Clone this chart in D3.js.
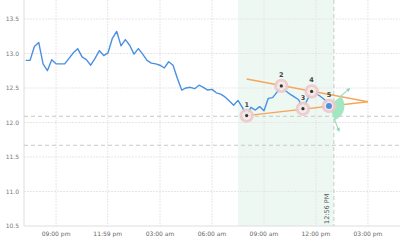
<!DOCTYPE html>
<html>
<head>
<meta charset="utf-8">
<script src="https://cdn.jsdelivr.net/npm/d3@7"></script>
<style>
  body { margin: 0; background: #fff; }
  svg { display: block; font-family: "DejaVu Sans", Verdana, sans-serif; }
</style>
</head>
<body>
<div id="chart"></div>
<script>
var width  = 400;
var height = 244;

// price series (15 min bars)
var times = [
  "2024-03-04 19:15","2024-03-04 19:30","2024-03-04 19:45","2024-03-04 20:00",
  "2024-03-04 20:15","2024-03-04 20:30","2024-03-04 20:45","2024-03-04 21:00",
  "2024-03-04 21:15","2024-03-04 21:30","2024-03-04 21:45","2024-03-04 22:00",
  "2024-03-04 22:15","2024-03-04 22:30","2024-03-04 22:45","2024-03-04 23:00",
  "2024-03-04 23:15","2024-03-04 23:30","2024-03-04 23:45","2024-03-05 00:00",
  "2024-03-05 00:15","2024-03-05 00:30","2024-03-05 00:45","2024-03-05 01:00",
  "2024-03-05 01:15","2024-03-05 01:30","2024-03-05 01:45","2024-03-05 02:00",
  "2024-03-05 02:15","2024-03-05 02:30","2024-03-05 02:45","2024-03-05 03:00",
  "2024-03-05 03:15","2024-03-05 03:30","2024-03-05 03:45","2024-03-05 04:00",
  "2024-03-05 04:15","2024-03-05 04:30","2024-03-05 04:45","2024-03-05 05:00",
  "2024-03-05 05:15","2024-03-05 05:30","2024-03-05 05:45","2024-03-05 06:00",
  "2024-03-05 06:15","2024-03-05 06:30","2024-03-05 06:45","2024-03-05 07:00",
  "2024-03-05 07:15","2024-03-05 07:30","2024-03-05 07:45","2024-03-05 08:00",
  "2024-03-05 08:15","2024-03-05 08:30","2024-03-05 08:45","2024-03-05 09:00",
  "2024-03-05 09:15","2024-03-05 09:30","2024-03-05 09:45","2024-03-05 10:00",
  "2024-03-05 10:15","2024-03-05 10:30","2024-03-05 10:45","2024-03-05 11:00",
  "2024-03-05 11:15","2024-03-05 11:30","2024-03-05 11:45","2024-03-05 12:00",
  "2024-03-05 12:15","2024-03-05 12:30","2024-03-05 12:45"
];
var prices = [
  12.90, 12.90, 13.10, 13.16, 12.85, 12.75, 12.91, 12.85,
  12.85, 12.85, 12.93, 13.01, 13.07, 12.95, 12.91, 12.83,
  12.93, 13.04, 12.97, 13.01, 13.22, 13.32, 13.11, 13.20,
  13.12, 12.99, 13.07, 12.99, 12.90, 12.86, 12.85, 12.83,
  12.79, 12.88, 12.83, 12.64, 12.47, 12.50, 12.51, 12.49,
  12.54, 12.51, 12.47, 12.48, 12.43, 12.41, 12.37, 12.31,
  12.25, 12.32, 12.22, 12.10, 12.22, 12.18, 12.23, 12.17,
  12.35, 12.36, 12.44, 12.53, 12.46, 12.41, 12.37, 12.33,
  12.20, 12.33, 12.45, 12.42, 12.38, 12.33, 12.24
];

// triangle pattern pivots
var pivotLabels = ["1", "2", "3", "4", "5"];
var pivotTimes  = ["2024-03-05 08:00","2024-03-05 10:00","2024-03-05 11:15","2024-03-05 11:45","2024-03-05 12:45"];
var pivotValues = [12.10, 12.53, 12.20, 12.45, 12.24];

var upperTrendTimes  = ["2024-03-05 08:00", "2024-03-05 15:00"];
var upperTrendValues = [12.63, 12.30];
var lowerTrendTimes  = ["2024-03-05 08:00", "2024-03-05 15:00"];
var lowerTrendValues = [12.10, 12.30];

var levels = [12.09, 11.67];
var zoneStart = "2024-03-05 07:30";
var nowTime   = "2024-03-05 13:02";
var nowLabel  = "12:56 PM";

var tickTimes  = ["2024-03-04 21:00","2024-03-04 23:59","2024-03-05 03:00","2024-03-05 06:00",
                  "2024-03-05 09:00","2024-03-05 12:00","2024-03-05 15:00"];
var tickLabels = ["09:00 pm","11:59 pm","03:00 am","06:00 am","09:00 am","12:00 pm","03:00 pm"];
var yTicks = [10.5, 11.0, 11.5, 12.0, 12.5, 13.0, 13.5];

var parse = d3.timeParse("%Y-%m-%d %H:%M");

var left = 24, bottom = 226;

var x = d3.scaleTime()
  .domain([parse("2024-03-04 19:09"), parse("2024-03-05 16:51")])
  .range([left, width]);
var y = d3.scaleLinear()
  .domain([10.5, 13.775])
  .range([bottom, 0]);

var svg = d3.select("#chart").append("svg")
  .attr("width", width)
  .attr("height", height);

// shaded pattern zone
svg.append("rect")
  .attr("x", x(parse(zoneStart)))
  .attr("y", 0)
  .attr("width", x(parse(nowTime)) - x(parse(zoneStart)))
  .attr("height", bottom)
  .attr("fill", "#eef8f3");

// grid
svg.append("g").selectAll("line")
  .data(yTicks.slice(1))
  .enter().append("line")
  .attr("x1", left).attr("x2", width)
  .attr("y1", function(d) { return y(d); })
  .attr("y2", function(d) { return y(d); })
  .attr("stroke", "#e6e6e6")
  .attr("stroke-dasharray", "2,1");

svg.append("g").selectAll("line")
  .data(tickTimes)
  .enter().append("line")
  .attr("x1", function(d) { return x(parse(d)); })
  .attr("x2", function(d) { return x(parse(d)); })
  .attr("y1", 0).attr("y2", bottom)
  .attr("stroke", "#e6e6e6")
  .attr("stroke-dasharray", "2,1");

// axis lines
svg.append("line")
  .attr("x1", left).attr("x2", left).attr("y1", 0).attr("y2", bottom)
  .attr("stroke", "#dedede");
svg.append("line")
  .attr("x1", left).attr("x2", width).attr("y1", bottom).attr("y2", bottom)
  .attr("stroke", "#dedede");

// y labels
svg.append("g").selectAll("text")
  .data(yTicks)
  .enter().append("text")
  .attr("x", 19)
  .attr("y", function(d) { return y(d); })
  .attr("dy", "0.35em")
  .attr("text-anchor", "end")
  .attr("font-size", 6)
  .attr("fill", "#777")
  .text(function(d) { return d3.format(".1f")(d); });

// x labels
svg.append("g").selectAll("text")
  .data(tickTimes)
  .enter().append("text")
  .attr("x", function(d) { return x(parse(d)); })
  .attr("y", 236)
  .attr("text-anchor", "middle")
  .attr("font-size", 6)
  .attr("fill", "#666")
  .text(function(d, i) { return tickLabels[i]; });

// support / resistance levels
svg.append("g").selectAll("line")
  .data(levels)
  .enter().append("line")
  .attr("x1", left).attr("x2", width)
  .attr("y1", function(d) { return y(d); })
  .attr("y2", function(d) { return y(d); })
  .attr("stroke", "#c8c8c8")
  .attr("stroke-dasharray", "4,3");

// now line
var nx = x(parse(nowTime));
svg.append("line")
  .attr("x1", nx).attr("x2", nx).attr("y1", 0).attr("y2", bottom)
  .attr("stroke", "#c8c8c8")
  .attr("stroke-dasharray", "4,3");
svg.append("text")
  .attr("transform", "translate(" + (nx - 4.5) + ",224)rotate(-90)")
  .attr("font-size", 6.5)
  .attr("fill", "#555")
  .text(nowLabel);

// price line
var series = times.map(function(t, i) { return { t: parse(t), v: prices[i] }; });
var line = d3.line()
  .x(function(d) { return x(d.t); })
  .y(function(d) { return y(d.v); });

svg.append("path")
  .datum(series)
  .attr("d", line)
  .attr("fill", "none")
  .attr("stroke", "#4a90e2")
  .attr("stroke-width", 1.4)
  .attr("stroke-linejoin", "round");

// trend lines
[[upperTrendTimes, upperTrendValues], [lowerTrendTimes, lowerTrendValues]].forEach(function(tr) {
  var pts = tr[0].map(function(t, i) { return { t: parse(t), v: tr[1][i] }; });
  svg.append("path")
    .datum(pts)
    .attr("d", line)
    .attr("fill", "none")
    .attr("stroke", "#f5a65b")
    .attr("stroke-width", 1.4);
});

// projection wedge at last pivot
var last = pivotTimes.length - 1;
var px = x(parse(pivotTimes[last])), py = y(pivotValues[last]);
var a0 = (90 - 40) * Math.PI / 180, a1 = (90 + 68) * Math.PI / 180;
var wedge = d3.arc().innerRadius(0).outerRadius(15.5).startAngle(a0).endAngle(a1);
var wg = svg.append("g").attr("transform", "translate(" + px + "," + py + ")");
wg.append("path").attr("d", wedge()).attr("fill", "#a3e6c2");
[-40, 68].forEach(function(deg) {
  var r = deg * Math.PI / 180;
  var x1 = 14 * Math.cos(r), y1 = 14 * Math.sin(r);
  var x2 = 25 * Math.cos(r), y2 = 25 * Math.sin(r);
  wg.append("line")
    .attr("x1", x1).attr("y1", y1).attr("x2", x2).attr("y2", y2)
    .attr("stroke", "#9edcbb").attr("stroke-width", 1.2);
  wg.append("path")
    .attr("d", "M-1,-2L3,0L-1,2Z")
    .attr("transform", "translate(" + x2 + "," + y2 + ")rotate(" + deg + ")")
    .attr("fill", "#8fd7b0");
});

// pivots
var pg = svg.append("g").selectAll("g")
  .data(pivotTimes)
  .enter().append("g")
  .attr("transform", function(d, i) {
    return "translate(" + x(parse(d)) + "," + y(pivotValues[i]) + ")";
  });
pg.append("circle")
  .attr("r", 5.8)
  .attr("fill", "#f7eaea")
  .attr("stroke", "#eccaca")
  .attr("stroke-width", 2.8)
  .attr("opacity", 0.9);
pg.append("circle")
  .attr("r", function(d, i) { return i === last ? 3 : 1.6; })
  .attr("fill", function(d, i) { return i === last ? "#4a90e2" : "#333"; });
pg.append("text")
  .attr("y", -9)
  .attr("text-anchor", "middle")
  .attr("font-size", 6.5)
  .attr("font-weight", "bold")
  .attr("fill", "#444")
  .text(function(d, i) { return pivotLabels[i]; });
</script>
</body>
</html>
